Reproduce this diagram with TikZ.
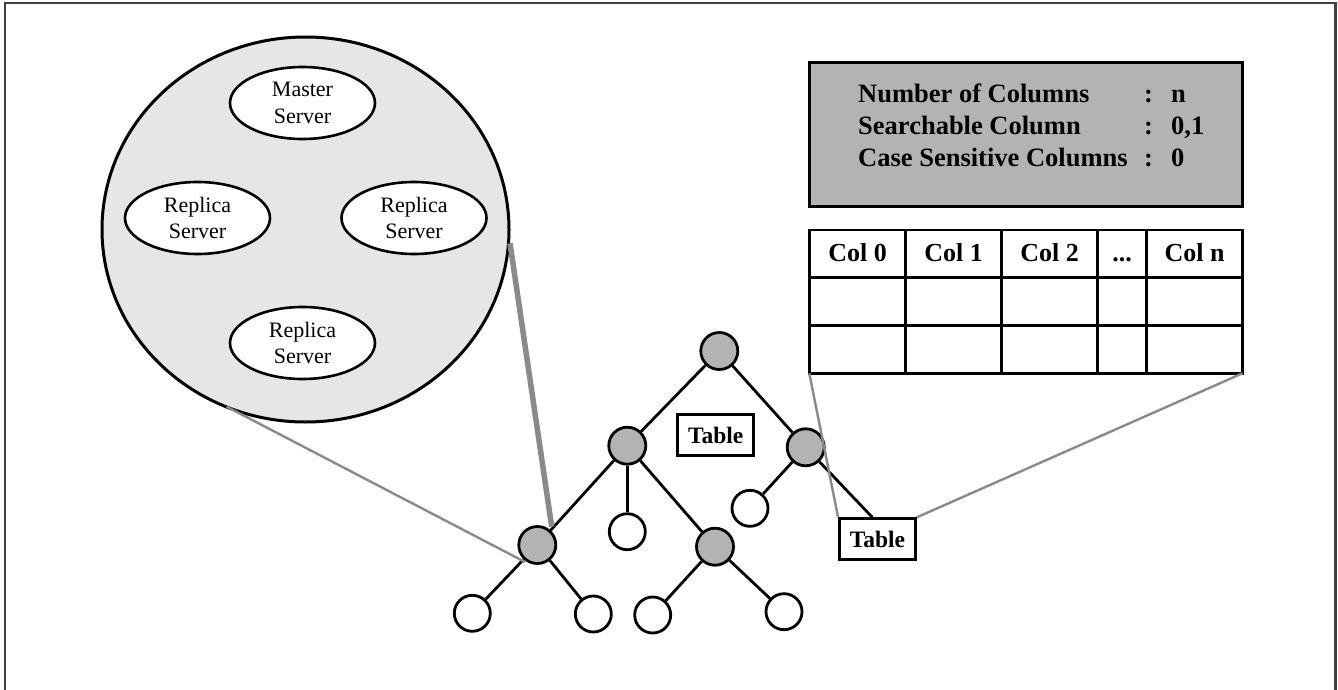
\documentclass[tikz,border=0pt]{standalone}
\usepackage{fontspec}
\setmainfont{Liberation Serif}
\usetikzlibrary{shapes.geometric}
\definecolor{cloudfill}{HTML}{E6E6E6}
\definecolor{midgray}{HTML}{B3B3B3}
\definecolor{linkgray}{HTML}{8A8A8A}
\tikzset{
  server/.style={ellipse, draw=black, line width=2.6pt, fill=white,
    minimum width=145pt, minimum height=72pt, inner sep=0pt, align=center,
    font=\fontsize{22}{26.5}\selectfont},
  inner/.style={circle, draw=black, line width=2.8pt, fill=midgray, minimum size=37pt, inner sep=0pt},
  leaf/.style={circle, draw=black, line width=2.8pt, fill=white, minimum size=36pt, inner sep=0pt},
  edge/.style={line width=2.8pt, black},
  tablabel/.style={draw=black, line width=2.8pt, fill=white, minimum width=76pt, minimum height=41pt,
    inner sep=0pt, font=\bfseries\fontsize{23.5}{26}\selectfont},
  infotext/.style={anchor=base west, inner sep=0pt, font=\bfseries\fontsize{26.5}{30}\selectfont},
  headtext/.style={anchor=base, inner sep=0pt, font=\bfseries\fontsize{26}{30}\selectfont},
  gridline/.style={line width=2.8pt, black},
  zoomthin/.style={linkgray, line width=2.4pt},
  zoomthick/.style={linkgray, line width=5.5pt}
}
\begin{document}
\begin{tikzpicture}[x=1pt,y=-1pt]
\useasboundingbox (0,0) rectangle (1338,690);
% frame (open at the bottom)
\draw[line width=2.2pt, black!75] (5,700) -- (5,3) -- (1335.5,3) -- (1335.5,700);

% server cluster
\node[ellipse, draw=black, line width=3pt, fill=cloudfill, minimum width=407pt, minimum height=385pt, inner sep=0pt] (cloud) at (305.5,229.5) {};
\node[server] (master) at (302.5,103) {Master\\Server};
\node[server] (repL) at (197.5,218) {Replica\\Server};
\node[server] (repR) at (414,218) {Replica\\Server};
\node[server] (repB) at (302.5,343) {Replica\\Server};

% table metadata
\node[draw=black, line width=3pt, fill=midgray, minimum width=433pt, minimum height=144pt, inner sep=0pt] (meta) at (1026,134.2) {};
\node[infotext] (m1) at (858,103) {Number of Columns};
\node[infotext] (m2) at (858,135) {Searchable Column};
\node[infotext] (m3) at (858,166.7) {Case Sensitive Columns};
\node[infotext] (c1) at (1144,103) {:};
\node[infotext] (c2) at (1144,135) {:};
\node[infotext] (c3) at (1144,166.7) {:};
\node[infotext] (v1) at (1171,103) {n};
\node[infotext] (v2) at (1171,135) {0,1};
\node[infotext] (v3) at (1171,166.7) {0};

% column grid
\coordinate (gTL) at (809.3,230);
\coordinate (gTR) at (1242.5,230);
\coordinate (gBL) at (809.3,373.3);
\coordinate (gBR) at (1242.5,373.3);
\fill[white] (gTL) rectangle (gBR);
\foreach \yy in {277.7,325.7}
  \draw[gridline] (809.3,\yy) -- (1242.5,\yy);
\foreach \xx in {905.7,1001.7,1097.7,1146.7}
  \draw[gridline] (\xx,230) -- (\xx,373.3);
\draw[gridline] (gTL) rectangle (gBR);
\node[headtext] (h0) at (857.5,261) {Col 0};
\node[headtext] (h1) at (953.7,261) {Col 1};
\node[headtext] (h2) at (1049.7,261) {Col 2};
\node[headtext] (h3) at (1122.2,261) {...};
\node[headtext] (h4) at (1194.6,261) {Col n};

% tree
\node[inner] (root) at (719.3,351) {};
\node[inner] (nL) at (627.3,445.7) {};
\node[inner] (nR) at (805.7,447.3) {};
\node[inner] (nLL) at (537.3,545) {};
\node[leaf] (nLM) at (627.3,531.7) {};
\node[inner] (nLR) at (715,546.7) {};
\node[leaf] (nRL) at (750,508.3) {};
\node[leaf] (a1) at (472.3,613.3) {};
\node[leaf] (a2) at (593.3,614) {};
\node[leaf] (a3) at (652.7,615) {};
\node[leaf] (a4) at (784,611.7) {};
\node[tablabel] (t1) at (715.7,435.2) {Table};
\node[tablabel] (t2) at (877.5,539.2) {Table};

\draw[edge] (root) -- (nL);
\draw[edge] (root) -- (nR);
\draw[edge] (nL) -- (nLL);
\draw[edge] (nL) -- (nLM);
\draw[edge] (nL) -- (nLR);
\draw[edge] (nR) -- (nRL);
\draw[edge] (nR) -- (t2.north -| 872.3,0);
\draw[edge] (nLL) -- (a1);
\draw[edge] (nLL) -- (a2);
\draw[edge] (nLR) -- (a3);
\draw[edge] (nLR) -- (a4);

% zoom-out connectors
\coordinate (zA) at (226.7,406.7);
\coordinate (zB) at (525,562);
\coordinate (zC) at (510,243.3);
\coordinate (zD) at (551.7,526.7);
\draw[zoomthin] (zA) -- (zB);
\draw[zoomthick] (zC) -- (zD);
\draw[zoomthin] (gBL) -- (t2.north west);
\draw[zoomthin] (gBR) -- (t2.north east);
\end{tikzpicture}
\end{document}
